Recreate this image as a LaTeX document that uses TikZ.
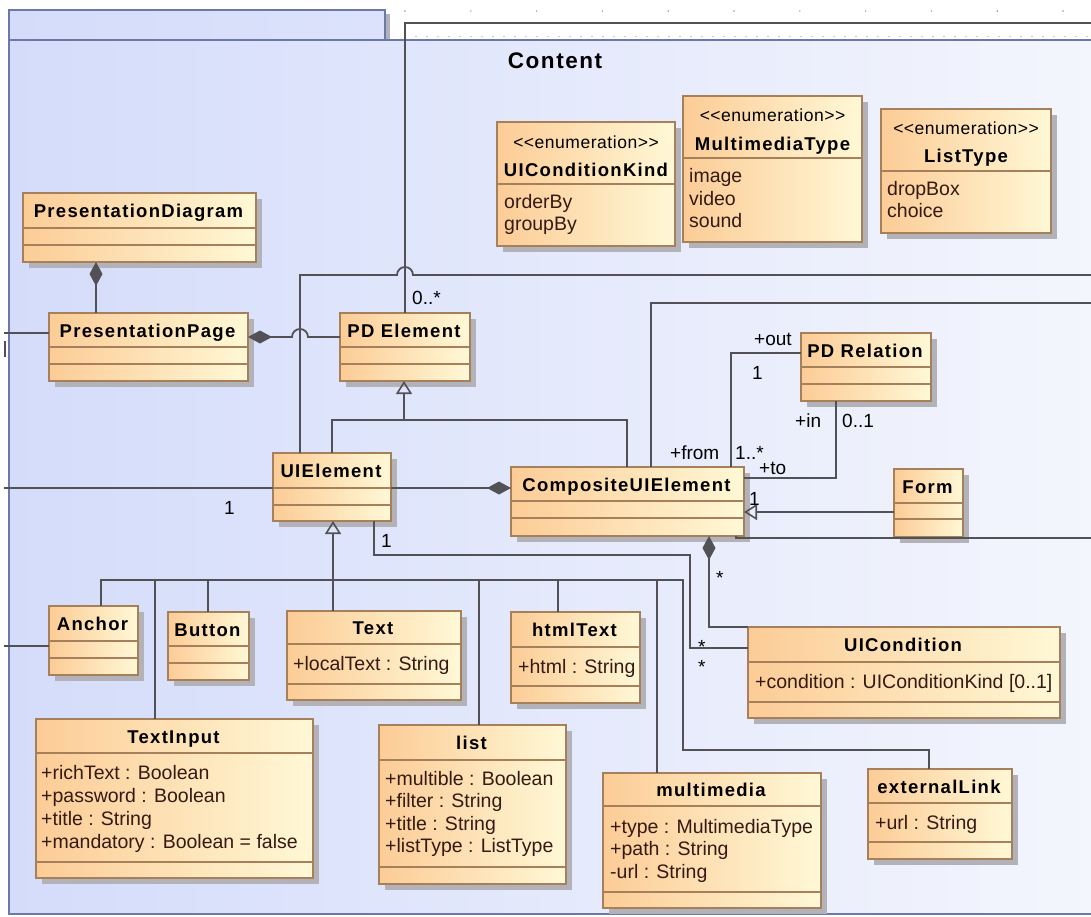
\documentclass[tikz,border=0pt]{standalone}
\usepackage{fontspec}
\setmainfont{Liberation Sans}
\newfontfamily\clsfont[LetterSpace=7]{Liberation Sans}
\newfontfamily\stfont[LetterSpace=3]{Liberation Sans}
\usetikzlibrary{arrows.meta}

\definecolor{pkgL}{RGB}{212,220,250}
\definecolor{pkgR}{RGB}{244,246,253}
\definecolor{pkgEdge}{RGB}{108,120,168}
\definecolor{clsL}{RGB}{252,204,150}
\definecolor{clsR}{RGB}{255,248,214}
\definecolor{clsEdge}{RGB}{166,128,90}
\definecolor{clsShadow}{RGB}{178,178,184}
\definecolor{wire}{RGB}{82,82,86}
\definecolor{attrInk}{RGB}{52,26,20}
\definecolor{tick}{RGB}{150,150,150}

\tikzset{
  clsbox/.style={draw=clsEdge, line width=1.4pt, left color=clsL, right color=clsR, inner sep=0pt, outer sep=0pt},
  sepline/.style={draw=clsEdge, line width=1.4pt},
  wire/.style={draw=wire, line width=1.8pt},
  compstart/.style={wire, {Diamond[length=24pt,width=13pt,fill=wire]}-},
  compend/.style={wire, -{Diamond[length=24pt,width=13pt,fill=wire]}},
  genend/.style={wire, -{Triangle[open,length=13pt,width=16pt,line width=1.6pt]}},
  clsname/.style={font=\clsfont\bfseries\fontsize{18.5}{20}\selectfont, anchor=base, inner sep=0pt},
  attr/.style={font=\fontsize{19.5}{22}\selectfont, text=attrInk, anchor=base west, inner sep=0pt},
  stereo/.style={font=\stfont\fontsize{17.5}{20}\selectfont, anchor=base, inner sep=0pt},
  mult/.style={font=\fontsize{19}{22}\selectfont, anchor=base west, inner sep=0pt},
}

% class: id, left, top, right, bottom, first separator, second separator, name
\newcommand\umlclass[8]{%
  \fill[clsShadow] (#2+6,#3+6) rectangle (#4+6,#5+6);
  \node[clsbox, anchor=north west, minimum width={(#4)-(#2)}, minimum height={(#5)-(#3)}] (#1) at (#2,#3) {};
  \draw[sepline] (#2,#6) -- (#4,#6);
  \draw[sepline] (#2,#7) -- (#4,#7);
  \node[clsname] (#1-name) at ({(#2+#4)/2-1},{(#3+#6)/2+7}) {#8};
}
% enumeration: id, left, top, right, bottom, separator, stereotype baseline, name baseline, name
\newcommand\umlenum[9]{%
  \fill[clsShadow] (#2+6,#3+6) rectangle (#4+6,#5+6);
  \node[clsbox, anchor=north west, minimum width={(#4)-(#2)}, minimum height={(#5)-(#3)}] (#1) at (#2,#3) {};
  \draw[sepline] (#2,#6) -- (#4,#6);
  \node[stereo] (#1-st) at ({(#2+#4)/2},#7) {<{}<enumeration>{}>};
  \node[clsname] (#1-name) at ({(#2+#4)/2},#8) {#9};
}

\begin{document}
\begin{tikzpicture}[x=1pt,y=-1pt,line join=miter]
\useasboundingbox (0,0) rectangle (1091,916);
\fill[white] (0,0) rectangle (1091,916);

% ruler dots above the package
\foreach \k in {0,...,10} \fill[tick] ({405+65.8*\k},11) circle (0.8pt);
\foreach \k in {0,...,62} \fill[tick] ({405+11*\k},36.5) circle (0.6pt);

% package frame and tab
\shade[left color=pkgL, right color=pkgR] (9,40) rectangle (1100,914);
\draw[pkgEdge, line width=1.4pt] (1100,914) -- (9,914) -- (9,40);
\fill[clsShadow] (385,14) rectangle (390,40);
\shade[left color=pkgL, right color=pkgL!75!pkgR] (9,10) rectangle (385,40);
\draw[pkgEdge, line width=1.4pt] (9,40) -- (9,10) -- (385,10) -- (385,40);
\draw[pkgEdge, line width=2pt] (9,40) -- (1100,40);
\node[font=\clsfont\bfseries\fontsize{22.5}{26}\selectfont, anchor=base, inner sep=0pt] (pkgname) at (555,68) {Content};

% enumerations
\umlenum{kind}{497}{122}{675}{246}{184}{148}{176}{UIConditionKind}
\node[attr] (kind-l1) at (504,208) {orderBy};
\node[attr] (kind-l2) at (504,230) {groupBy};
\umlenum{mtype}{683}{96}{862}{242}{158}{121}{150}{MultimediaType}
\node[attr] (mtype-l1) at (689,182) {image};
\node[attr] (mtype-l2) at (689,205) {video};
\node[attr] (mtype-l3) at (689,227) {sound};
\umlenum{ltype}{881}{109}{1051}{233}{171}{134}{162}{ListType}
\node[attr] (ltype-l1) at (887,195) {dropBox};
\node[attr] (ltype-l2) at (887,217) {choice};

% classes
\umlclass{pdiag}{23}{193}{256}{262}{228}{245}{PresentationDiagram}
\umlclass{ppage}{49}{313}{248}{381}{347}{364}{PresentationPage}
\umlclass{pdel}{340}{313}{470}{381}{347}{364}{PD Element}
\umlclass{uiel}{273}{453}{391}{521}{488}{505}{UIElement}
\umlclass{cuiel}{511}{467}{744}{536}{501}{518}{CompositeUIElement}
\umlclass{pdrel}{801}{333}{931}{401}{367}{384}{PD Relation}
\umlclass{form}{894}{469}{963}{537}{503}{519}{Form}
\umlclass{anch}{49}{606}{138}{675}{641}{658}{Anchor}
\umlclass{button}{168}{612}{249}{680}{646}{663}{Button}
\umlclass{text}{287}{611}{461}{700}{644}{684}{Text}
\node[attr] (text-a1) at (293,670) {+localText : String};
\umlclass{html}{511}{612}{640}{703}{647}{686}{htmlText}
\node[attr] (html-a1) at (518,673) {+html : String};
\umlclass{uicond}{748}{627}{1060}{718}{662}{702}{UICondition}
\node[attr] (uicond-a1) at (755,688) {+condition : UIConditionKind [0..1]};
\umlclass{tinput}{36}{719}{313}{878}{753}{862}{TextInput}
\node[attr] (tinput-a1) at (41,779) {+richText : Boolean};
\node[attr] (tinput-a2) at (41,802) {+password : Boolean};
\node[attr] (tinput-a3) at (41,825) {+title : String};
\node[attr] (tinput-a4) at (41,848) {+mandatory : Boolean = false};
\umlclass{list}{379}{725}{566}{884}{760}{867}{list}
\node[attr] (list-a1) at (385,785) {+multible : Boolean};
\node[attr] (list-a2) at (385,807.5) {+filter : String};
\node[attr] (list-a3) at (385,830) {+title : String};
\node[attr] (list-a4) at (385,852.5) {+listType : ListType};
\umlclass{mmedia}{603}{773}{821}{908}{806}{892}{multimedia}
\node[attr] (mmedia-a1) at (610,833) {+type : MultimediaType};
\node[attr] (mmedia-a2) at (610,855.5) {+path : String};
\node[attr] (mmedia-a3) at (610,878) {-url : String};
\umlclass{extlink}{868}{769}{1012}{859}{803}{842}{externalLink}
\node[attr] (extlink-a1) at (875,829) {+url : String};

% free ends of connectors leaving the package
\coordinate (wL1) at (4,333);
\coordinate (wL2) at (4,488);
\coordinate (wL3) at (4,646);
\coordinate (wR1) at (1096,23);
\coordinate (wR2) at (1096,275);
\coordinate (wR3) at (1096,303);
\coordinate (wR4) at (1096,538);
\coordinate (hubPD) at (404,420);
\coordinate (hubUI) at (333,580);

\draw[wire] (wL1) -- (ppage.west |- wL1);
\draw[wire] (wL2) -- (uiel.west |- wL2);
\draw[wire] (wL3) -- (anch.west |- wL3);
\draw[wire, line width=1.2pt] (5,341) -- (5,357);

% compositions and associations
\draw[compstart] (pdiag.south -| 96,0) -- (ppage.north -| 96,0);
\draw[compstart] (ppage.east |- 0,337) -- (292,337) arc (180:0:8pt) -- (pdel.west |- 0,337);
\draw[wire] (pdel.north -| 405,0) -- (405,23) -- (wR1);
\draw[wire] (uiel.north -| 300,0) -- (300,275) -- (397,275) arc (180:0:8pt) -- (wR2);
\draw[wire] (cuiel.north -| 651,0) -- (651,303) -- (wR3);
\draw[wire] (pdrel.west |- 0,353) -- (731,353) -- (cuiel.north -| 731,0);
\draw[wire] (pdrel.south -| 836,0) -- (836,478) -- (cuiel.east |- 0,478);
\draw[wire] (cuiel.south -| 736,0) -- (736,538) -- (wR4);
\draw[compend] (uiel.east |- 0,488) -- (cuiel.west |- 0,488);
\draw[wire] (uiel.south -| 374,0) -- (374,555) -- (690,555) -- (690,648) -- (uicond.west |- 0,648);
\draw[compstart] (cuiel.south -| 709,0) -- (709,627) -- (uicond.north west);

% generalizations
\draw[wire] (uiel.north -| 332,0) |- (hubPD);
\draw[wire] (cuiel.north -| 627,0) |- (hubPD);
\draw[genend] (hubPD) -- (pdel.south -| hubPD);
\draw[genend] (form.west |- 0,512) -- (cuiel.east |- 0,512);
\draw[genend] (hubUI) -- (uiel.south -| hubUI);
\draw[wire] (anch.north -| 101,0) |- (hubUI);
\draw[wire] (tinput.north -| 155,0) |- (hubUI);
\draw[wire] (button.north -| 208,0) |- (hubUI);
\draw[wire] (text.north -| hubUI) -- (hubUI);
\draw[wire] (list.north -| 479,0) |- (hubUI);
\draw[wire] (html.north -| 558,0) |- (hubUI);
\draw[wire] (mmedia.north -| 657,0) |- (hubUI);
\draw[wire] (extlink.north -| 929,0) -- (929,750) -- (683,750) |- (hubUI);

% multiplicities and role names
\node[mult] (m-pdel) at (412,304) {0..*};
\node[mult] (m-out) at (754,345) {+out};
\node[mult] (m-out1) at (752,379) {1};
\node[mult] (m-in) at (795,427) {+in};
\node[mult] (m-in01) at (842,427) {0..1};
\node[mult] (m-from) at (670,459) {+from};
\node[mult] (m-from1) at (735,459) {1..*};
\node[mult] (m-to) at (759,474.5) {+to};
\node[mult] (m-to1) at (749,505) {1};
\node[mult] (m-left1) at (224,514) {1};
\node[mult] (m-ui1) at (381,547) {1};
\node[mult] (m-cond) at (716,584) {*};
\node[mult] (m-st1) at (698,653) {*};
\node[mult] (m-st2) at (698,673) {*};
\end{tikzpicture}
\end{document}
